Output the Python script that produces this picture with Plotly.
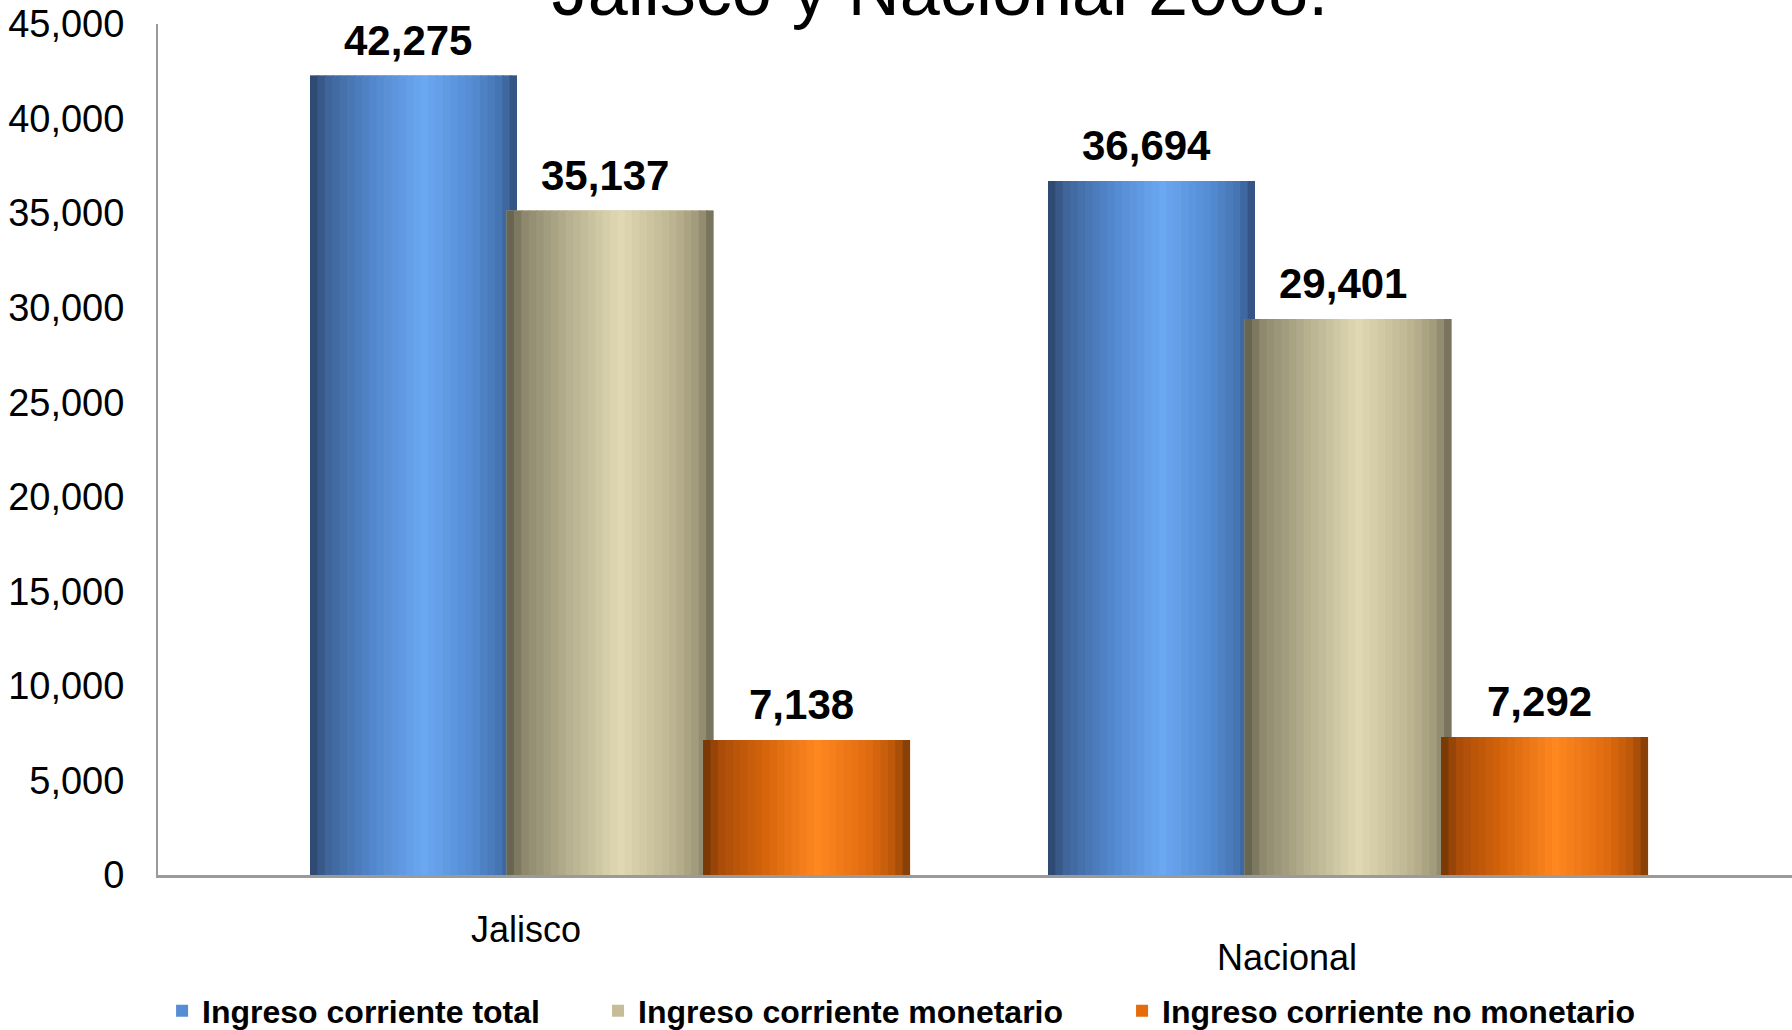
import plotly.graph_objects as go

# ---------------- data ----------------
categories = ["Jalisco", "Nacional"]
series_names = [
    "Ingreso corriente total",
    "Ingreso corriente monetario",
    "Ingreso corriente no monetario",
]
ingreso_total = [42275, 36694]
ingreso_monetario = [35137, 29401]
ingreso_no_monetario = [7138, 7292]
y_tick_values = [0, 5000, 10000, 15000, 20000, 25000, 30000, 35000, 40000, 45000]
title_text = "Jalisco y Nacional 2008."

series_values = [ingreso_total, ingreso_monetario, ingreso_no_monetario]

# ---------------- style ----------------
FONT = "Liberation Sans, Arial, sans-serif"
legend_colors = ["#558ED5", "#C4BD97", "#E46C0A"]
gradient_stops = [
    [(0.0, "#2B4468"), (0.08, "#3F6498"), (0.30, "#5287CC"), (0.55, "#6BA8F2"),
     (0.80, "#528ACF"), (0.93, "#4471AE"), (1.0, "#2F4C78")],
    [(0.0, "#5E5B48"), (0.08, "#8C876C"), (0.30, "#B6B08F"), (0.55, "#E0D9B2"),
     (0.80, "#BDB592"), (0.93, "#9E9878"), (1.0, "#6B6754")],
    [(0.0, "#6E3305"), (0.08, "#A94C08"), (0.30, "#D6650C"), (0.55, "#FF8720"),
     (0.80, "#E06C10"), (0.93, "#B85509"), (1.0, "#7A3A06")],
]
series_offsets = [-0.2663, 0.0, 0.2663]   # centre of each series within a category (axis units)
BAR_W = 0.2805                            # bar width (axis units)
N_STRIPS = 28                             # strips used to emulate the cylinder shading
cat_label_dx = [-0.114, -0.083]
cat_label_shift = [-54, -82]
legend_ids = ["legend", "legend2", "legend3"]
legend_x = [0.0025, 0.2693, 0.590]
legend_y = 1 - 1011 / 1030


def hex_to_rgb(h):
    h = h.lstrip("#")
    return tuple(int(h[i:i + 2], 16) for i in (0, 2, 4))


def grad_color(stops, t):
    for (p0, c0), (p1, c1) in zip(stops[:-1], stops[1:]):
        if p0 <= t <= p1:
            f = 0 if p1 == p0 else (t - p0) / (p1 - p0)
            a, b = hex_to_rgb(c0), hex_to_rgb(c1)
            r = [round(a[i] + (b[i] - a[i]) * f) for i in range(3)]
            return "rgb(%d,%d,%d)" % tuple(r)
    return stops[-1][1]


fig = go.Figure()

for s, (name, vals) in enumerate(zip(series_names, series_values)):
    left = series_offsets[s] - BAR_W / 2
    # base bar (legend entry + hover)
    fig.add_trace(go.Bar(
        x=categories, y=vals, name=name, legend=legend_ids[s],
        marker=dict(color=legend_colors[s], line=dict(width=0)),
        offset=left, width=BAR_W,
        hovertemplate="%{x}<br>" + name + ": %{y:,}<extra></extra>",
    ))
    # shading strips
    sw = BAR_W / N_STRIPS
    for k in range(N_STRIPS):
        t = (k + 0.5) / N_STRIPS
        w = sw * 1.25 if k < N_STRIPS - 1 else sw
        fig.add_trace(go.Bar(
            x=categories, y=vals, showlegend=False, hoverinfo="skip",
            marker=dict(color=grad_color(gradient_stops[s], t), line=dict(width=0)),
            offset=left + k * sw, width=w,
        ))

annotations = []
# data labels
for s, vals in enumerate(series_values):
    for i, v in enumerate(vals):
        annotations.append(dict(
            x=i + series_offsets[s], y=v, xref="x", yref="y",
            text=f"{v:,}", showarrow=False, yanchor="bottom", xanchor="center",
            xshift=-5, yshift=10,
            font=dict(family=FONT, size=42, color="#000000", weight="bold"),
        ))
# category labels
for i, c in enumerate(categories):
    annotations.append(dict(
        x=i + cat_label_dx[i], y=0, xref="x", yref="paper",
        text=c, showarrow=False, xanchor="center", yanchor="middle",
        yshift=cat_label_shift[i],
        font=dict(family=FONT, size=36, color="#000000"),
    ))

legend_font = dict(family=FONT, size=32, color="#000000", weight="bold")
legends = {}
for lid, lx in zip(legend_ids, legend_x):
    legends[lid] = dict(
        orientation="h", x=lx, xanchor="left",
        y=legend_y, yref="container", yanchor="middle",
        font=legend_font, bgcolor="rgba(0,0,0,0)",
    )

fig.update_layout(
    width=1792, height=1030,
    margin=dict(l=158, r=0, t=24, b=155, autoexpand=False),
    paper_bgcolor="white", plot_bgcolor="white",
    barmode="overlay",
    title=dict(
        text=title_text, xref="container", yref="container",
        x=940 / 1792, xanchor="center", y=1 - 15 / 1030, yanchor="bottom",
        font=dict(family=FONT, size=72, color="#000000"),
    ),
    xaxis=dict(
        type="category", range=[-0.6125, 1.6016],
        showticklabels=False, ticks="", showgrid=False, zeroline=False,
        showline=True, linecolor="#9A9A9A", linewidth=3,
    ),
    yaxis=dict(
        range=[0, 45000], tickvals=y_tick_values, tickformat=",",
        showgrid=False, zeroline=False, ticks="",
        showline=True, linecolor="#9A9A9A", linewidth=2,
        ticklabelstandoff=24,
        tickfont=dict(family=FONT, size=38, color="#000000"),
    ),
    annotations=annotations,
    **legends,
)

fig.write_html(
    "out.html",
    config={"displayModeBar": False},
    post_script="document.body.style.margin='0';",
)
